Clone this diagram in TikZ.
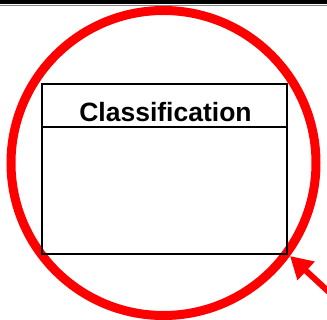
\documentclass[tikz,border=0pt]{standalone}
\usepackage{fontspec}
\setmainfont{Liberation Sans}
\usetikzlibrary{arrows.meta}
\begin{document}
\begin{tikzpicture}[x=1pt,y=-1pt,
  redline/.style={draw=red,line width=9pt},
  umlbox/.style={draw=black,line width=2pt},
  pointer/.style={draw=red,line width=6pt,-{Triangle[length=22pt,width=24pt]}}]
\useasboundingbox (0,0) rectangle (327,320);
\fill[black] (0,0) rectangle (327,4.5);
\draw[black!50,line width=0.8pt] (0,5) -- (327,5);
\draw[redline] (163.5,163) circle[radius=152.5pt];
\draw[umlbox] (41.5,84.5) rectangle (286.5,254);
\draw[umlbox] (41.5,127) -- (286.5,127);
\node[anchor=base,inner sep=0pt,font=\fontsize{26.5}{30}\selectfont\bfseries] (title) at (165.5,122) {Classification};
\coordinate (tail) at (330,293);
\coordinate (tip) at (290,256);
\draw[pointer] (tail) -- (tip);
\end{tikzpicture}
\end{document}
